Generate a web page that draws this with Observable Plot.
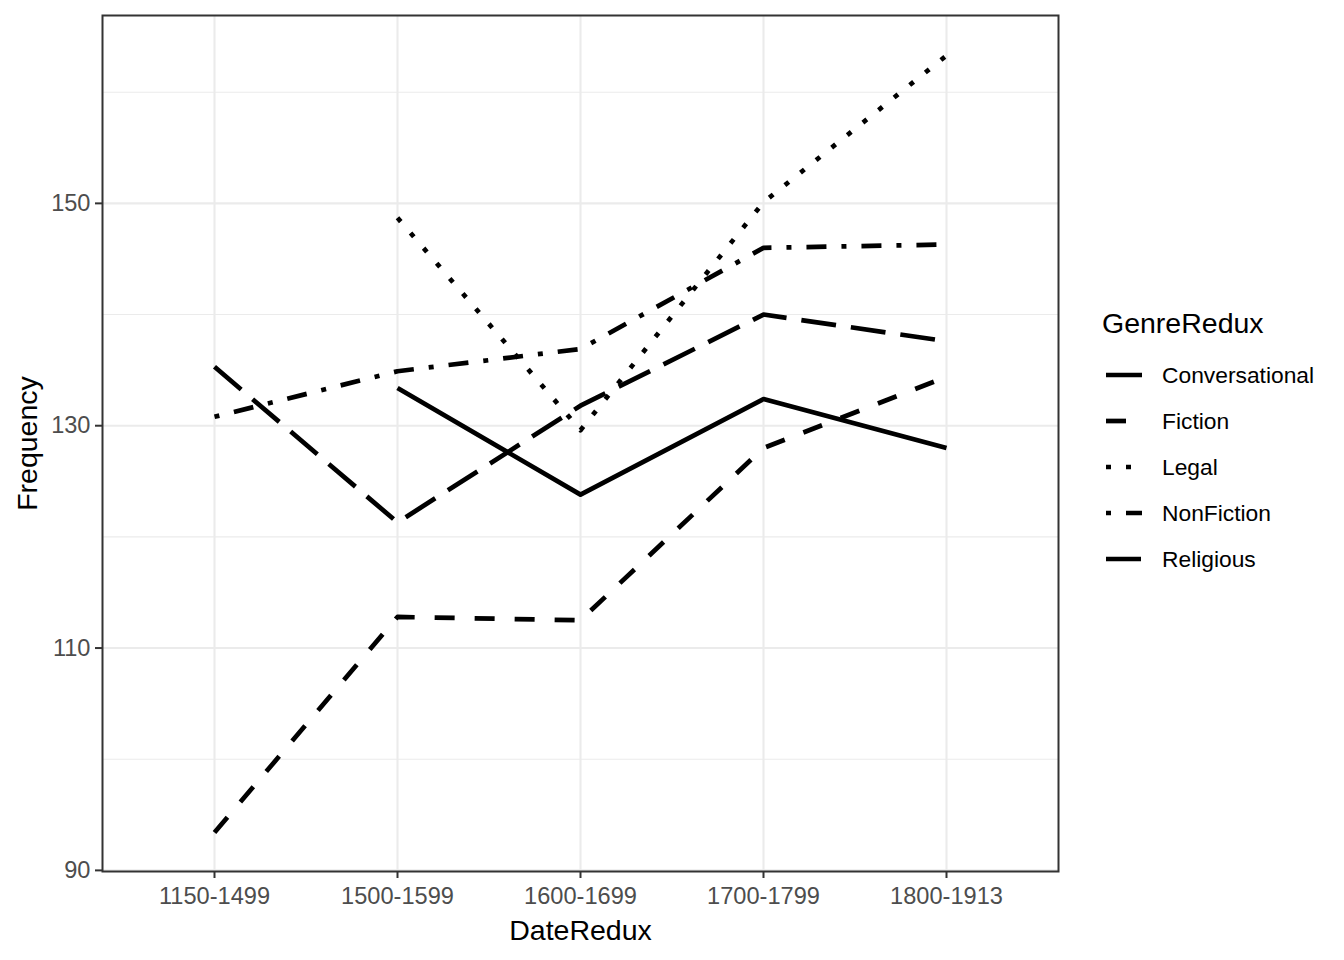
<!DOCTYPE html>
<html>
<head>
<meta charset="utf-8">
<script src="https://cdn.jsdelivr.net/npm/d3@7"></script>
<script src="https://cdn.jsdelivr.net/npm/@observablehq/plot@0.6"></script>
<style>
  html, body { margin: 0; padding: 0; background: #fff; }
  #wrap { position: relative; width: 1344px; height: 960px; font-family: "Liberation Sans", Arial, sans-serif; }
  #legend { position: absolute; left: 0; top: 0; }
  .lg-title { position: absolute; font-size: 28.5px; color: #000; white-space: nowrap; line-height: 1; }
  .lg-item { position: absolute; font-size: 22.8px; color: #000; white-space: nowrap; line-height: 1; }
  .lg-key { position: absolute; }
</style>
</head>
<body>
<div id="wrap"><div id="chart"></div><div id="legend"></div></div>
<script>
// ---- data ----
const dates = ["1150-1499", "1500-1599", "1600-1699", "1700-1799", "1800-1913"];
const genres = ["Conversational", "Fiction", "Legal", "NonFiction", "Religious"];
const conversational = [null, 133.4, 123.8, 132.4, 128.0];
const fiction = [93.4, 112.8, 112.5, 128.0, 134.4];
const legal = [null, 148.7, 129.6, 150.1, 163.3];
const nonFiction = [130.8, 134.9, 136.9, 146.0, 146.3];
const religious = [135.3, 121.3, 131.8, 140.0, 137.6];
const yTicks = [90, 110, 130, 150];
const yMinor = [100, 120, 140, 160];

const seriesValues = [conversational, fiction, legal, nonFiction, religious];
// R linetypes: solid, dashed (44), dotted (13), dotdash (1343), longdash (73) at unit 5px
const dashes = ["none", "20,20", "5,15", "5,15,20,15", "35,15"];

const rows = [];
genres.forEach((g, i) => {
  dates.forEach((d, j) => {
    const v = seriesValues[i][j];
    if (v != null) rows.push({ genre: g, date: d, value: v });
  });
});

const W = 1344, H = 960;
const mL = 102, mR = W - 1058, mT = 15, mB = H - 871;
const font = '"Liberation Sans", Arial, sans-serif';

const lineMarks = genres.map((g, i) =>
  Plot.line(rows.filter(r => r.genre === g), {
    x: "date", y: "value",
    stroke: "#000", strokeWidth: 4.7,
    strokeDasharray: dashes[i] === "none" ? null : dashes[i],
    strokeLinecap: "butt", strokeLinejoin: "round"
  })
);

const chart = Plot.plot({
  width: W, height: H,
  marginLeft: mL, marginRight: mR, marginTop: mT, marginBottom: mB,
  style: { fontFamily: font, background: "#fff", overflow: "visible" },
  x: { type: "point", domain: dates, padding: 0.6, label: null },
  y: { domain: [89.9, 166.9], label: null },
  marks: [
    Plot.gridY(yMinor, { stroke: "#EBEBEB", strokeOpacity: 1, strokeWidth: 1.1 }),
    Plot.gridY(yTicks, { stroke: "#EBEBEB", strokeOpacity: 1, strokeWidth: 2.1 }),
    Plot.gridX(dates, { stroke: "#EBEBEB", strokeOpacity: 1, strokeWidth: 2.1 }),
    ...lineMarks,
    Plot.frame({ stroke: "#333333", strokeWidth: 2 }),
    Plot.axisY(yTicks, {
      tickSize: 7, tickPadding: 5, fontSize: 23.6, color: "#4D4D4D",
      stroke: "#333333", strokeWidth: 2, label: null
    }),
    Plot.axisX(dates, {
      tickSize: 7, tickPadding: 9, fontSize: 23.6, color: "#4D4D4D",
      stroke: "#333333", strokeWidth: 2, label: null
    }),
    Plot.text(["DateRedux"], {
      frameAnchor: "bottom", dy: 59, fontSize: 28.5, fill: "#000", lineAnchor: "middle"
    }),
    Plot.text(["Frequency"], {
      frameAnchor: "left", dx: -75, rotate: -90, fontSize: 28.5, fill: "#000",
      textAnchor: "middle", lineAnchor: "middle"
    })
  ]
});
document.getElementById("chart").appendChild(chart);

// ---- legend ----
const legend = document.getElementById("legend");
const t = document.createElement("div");
t.className = "lg-title";
t.textContent = "GenreRedux";
t.style.left = "1102px";
t.style.top = (323 - 14.5) + "px";
legend.appendChild(t);
genres.forEach((g, i) => {
  const cy = 375 + i * 46;
  const svg = d3.create("svg").attr("class", "lg-key")
    .attr("width", 36).attr("height", 20)
    .style("left", "1106px").style("top", (cy - 10) + "px");
  svg.append("line").attr("x1", 0).attr("x2", 36).attr("y1", 10).attr("y2", 10)
    .attr("stroke", "#000").attr("stroke-width", 4.7)
    .attr("stroke-dasharray", dashes[i] === "none" ? null : dashes[i])
    .attr("stroke-linecap", "butt");
  legend.appendChild(svg.node());
  const lab = document.createElement("div");
  lab.className = "lg-item";
  lab.textContent = g;
  lab.style.left = "1162px";
  lab.style.top = (cy - 11.5) + "px";
  legend.appendChild(lab);
});
</script>
</body>
</html>
